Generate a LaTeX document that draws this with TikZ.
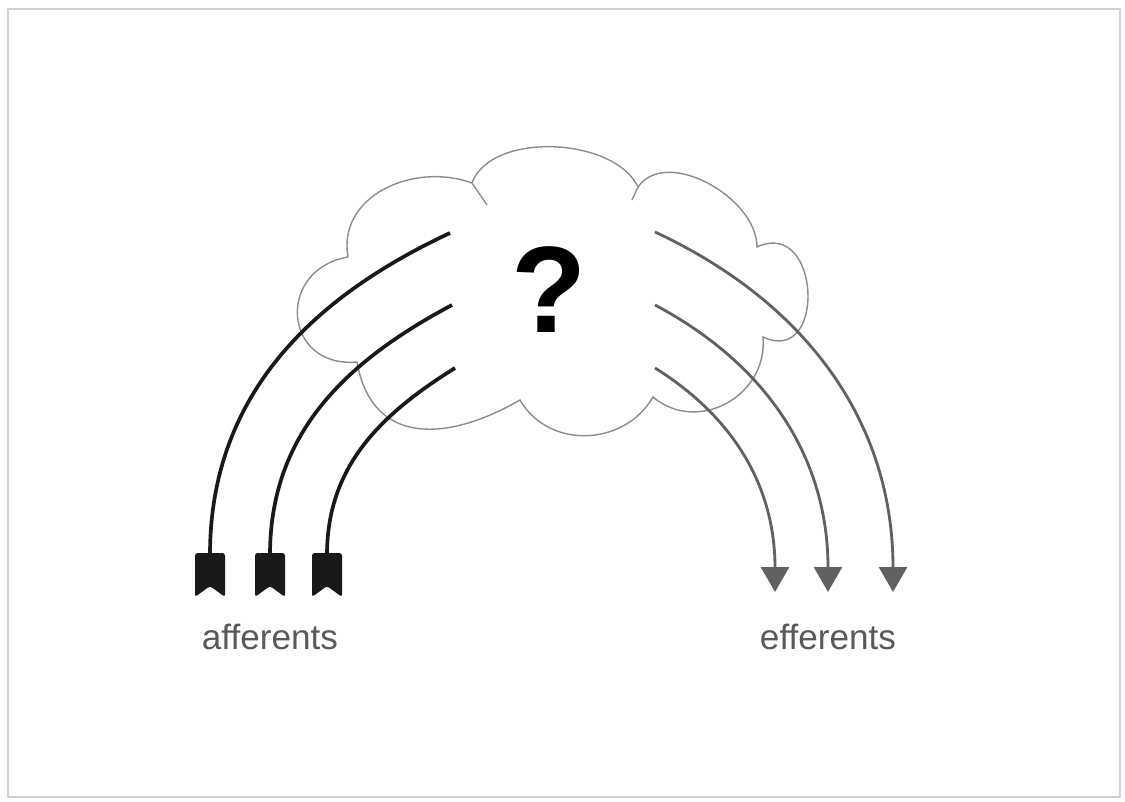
\documentclass[tikz,border=0pt]{standalone}
\usepackage{fontspec}
\setmainfont[Ligatures=NoCommon]{Liberation Sans}
\usepackage{tikz}
\usetikzlibrary{positioning, arrows.meta}

\tikzset{
  cloudline/.style={draw=black!45, line width=0.8pt},
  affline/.style={line width=2.1pt, black!90},
  effline/.style={line width=1.6pt, black!62, -{Triangle[width=0.56cm, length=0.5cm]}},
  label/.style={text=black!65, font=\fontsize{20}{24}\selectfont},
  fletch/.pic={\fill[black!90, rounded corners=1.5pt] (-15,2) -- (-15,-42) -- (0,-31) -- (15,-42) -- (15,2) -- cycle;}
}

\begin{document}
\begin{tikzpicture}[x=0.02cm, y=0.02cm]
      % Frame
      \useasboundingbox (0,0) rectangle (1125,-801);
      \draw[black!18, line width=1.6pt] (8,-9) rectangle (1120,-797);

      % Cloud
      \coordinate (c1) at (472,-183);
      \coordinate (c2) at (638,-187);
      \coordinate (c3) at (757,-247);
      \coordinate (c4) at (763,-337);
      \coordinate (c5) at (653,-397);
      \coordinate (c6) at (520,-400);
      \coordinate (c7) at (357,-362);
      \coordinate (c8) at (348,-257);
      \draw[cloudline] (c8) to[out=100, in=160, looseness=1.1] (c1)
        to[out=70, in=115, looseness=0.85] (c2)
        to[out=55, in=90, looseness=0.95] (c3)
        to[out=25, in=-25, looseness=2] (c4)
        to[out=-85, in=-40, looseness=1.2] (c5)
        to[out=-120, in=-60, looseness=1.1] (c6)
        to[out=-150, in=-80, looseness=1.3] (c7)
        to[out=185, in=190, looseness=1.8] (c8);
      \draw[cloudline] (c1) -- ++(15,-22);
      \draw[cloudline] (c2) -- ++(-6,-13);

      % Question mark
      \node (think) at (549,-290) {\fontsize{70}{70}\selectfont\bfseries ?};

      % Afferents
      \coordinate (a1out) at (210,-555);
      \coordinate (a2out) at (270,-555);
      \coordinate (a3out) at (327,-555);
      \coordinate (a1in) at (450,-233);
      \coordinate (a2in) at (452,-305);
      \coordinate (a3in) at (455,-368);
      \draw[affline] (a1out) to[out=90, in=205] (a1in);
      \draw[affline] (a2out) to[out=90, in=208] (a2in);
      \draw[affline] (a3out) to[out=90, in=212] (a3in);
      \pic at (a1out) {fletch};
      \pic at (a2out) {fletch};
      \pic at (a3out) {fletch};

      % Efferents
      \coordinate (e1in) at (655,-232);
      \coordinate (e2in) at (655,-305);
      \coordinate (e3in) at (655,-368);
      \coordinate (e1out) at (893,-592);
      \coordinate (e2out) at (828,-592);
      \coordinate (e3out) at (775,-592);
      \draw[effline] (e1in) to[out=-25, in=90] (e1out);
      \draw[effline] (e2in) to[out=-28, in=90] (e2out);
      \draw[effline] (e3in) to[out=-32, in=90] (e3out);

      % Labels
      \node[label, below=1.26cm of a2out] (afflabel) {afferents};
      \node[label, below=0.52cm of e2out] (efflabel) {efferents};
    \end{tikzpicture}
\end{document}
